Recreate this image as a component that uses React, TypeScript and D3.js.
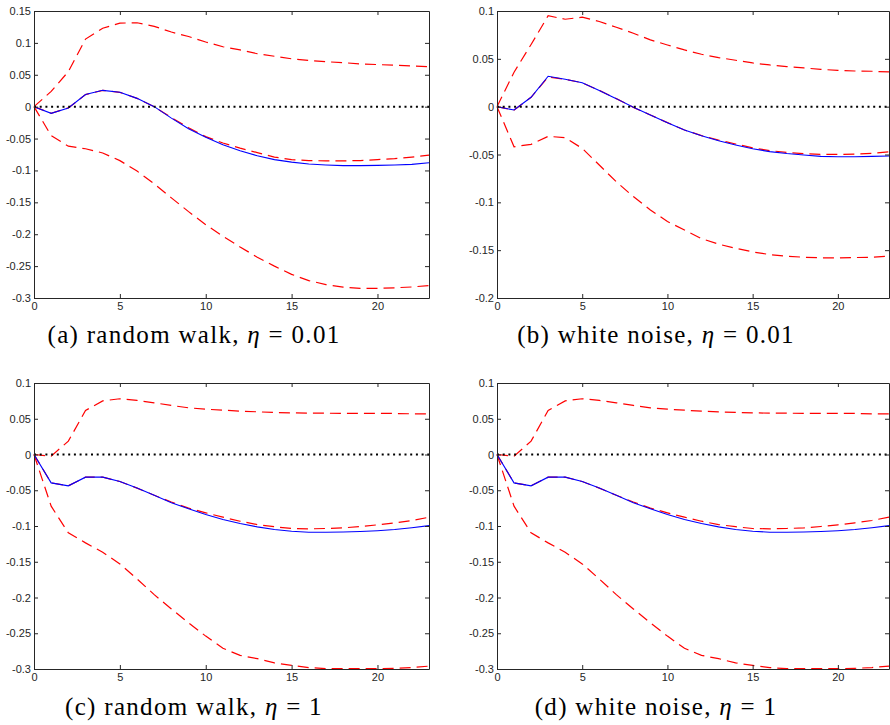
import React, { useEffect, useRef } from "react";
import * as d3 from "d3";

// horizons 0..23
const horizon = [0, 1, 2, 3, 4, 5, 6, 7, 8, 9, 10, 11, 12, 13, 14, 15, 16, 17, 18, 19, 20, 21, 22, 23];
const xTicks = [0, 5, 10, 15, 20];

// (a) random walk, eta = 0.01
const aBlue = [0, -0.0104, -0.002, 0.019, 0.0256, 0.0225, 0.013, 0.0, -0.018, -0.0345, -0.048, -0.0596, -0.069, -0.077, -0.083, -0.087, -0.09, -0.0915, -0.0925, -0.0925, -0.092, -0.0915, -0.0905, -0.088];
const aMid = [0, -0.0104, -0.002, 0.019, 0.0256, 0.0225, 0.013, 0.0, -0.017, -0.033, -0.047, -0.057, -0.065, -0.072, -0.079, -0.083, -0.0846, -0.085, -0.085, -0.0845, -0.083, -0.0815, -0.079, -0.076];
const aUp = [0, 0.024, 0.055, 0.106, 0.123, 0.131, 0.1316, 0.126, 0.117, 0.11, 0.1014, 0.094, 0.089, 0.083, 0.079, 0.075, 0.0726, 0.0705, 0.069, 0.067, 0.066, 0.065, 0.064, 0.0627];
const aLow = [0, -0.0455, -0.062, -0.066, -0.0726, -0.0846, -0.101, -0.121, -0.143, -0.1646, -0.185, -0.203, -0.22, -0.236, -0.25, -0.263, -0.2727, -0.279, -0.283, -0.2848, -0.2848, -0.284, -0.2827, -0.2806];
const aTicks = [-0.3, -0.25, -0.2, -0.15, -0.1, -0.05, 0, 0.05, 0.1, 0.15];

// (b) white noise, eta = 0.01
const bBlue = [0, -0.0035, 0.0098, 0.0318, 0.0286, 0.025, 0.017, 0.0084, -0.0007, -0.0087, -0.0167, -0.0244, -0.0304, -0.0356, -0.04, -0.044, -0.047, -0.049, -0.0506, -0.052, -0.0523, -0.0523, -0.052, -0.0516];
const bMid = [0, -0.0035, 0.0098, 0.031, 0.0286, 0.025, 0.017, 0.0084, -0.0007, -0.0087, -0.0167, -0.0244, -0.0302, -0.0349, -0.039, -0.043, -0.046, -0.0478, -0.0492, -0.0499, -0.0499, -0.0495, -0.0488, -0.0471];
const bUp = [0, 0.036, 0.065, 0.095, 0.0914, 0.0935, 0.089, 0.083, 0.0768, 0.0698, 0.0645, 0.0593, 0.0548, 0.0513, 0.0485, 0.0457, 0.0436, 0.0419, 0.0405, 0.039, 0.038, 0.0373, 0.037, 0.0363];
const bLow = [0, -0.0419, -0.0394, -0.031, -0.0325, -0.0436, -0.061, -0.0785, -0.094, -0.108, -0.12, -0.129, -0.138, -0.1437, -0.148, -0.1518, -0.1546, -0.1563, -0.1574, -0.158, -0.158, -0.1577, -0.1574, -0.1563];
const bTicks = [-0.2, -0.15, -0.1, -0.05, 0, 0.05, 0.1];

// (c) random walk, eta = 1
const cBlue = [0, -0.0397, -0.0438, -0.0317, -0.0317, -0.0378, -0.047, -0.057, -0.0676, -0.076, -0.084, -0.091, -0.0966, -0.1012, -0.105, -0.1073, -0.1087, -0.1088, -0.1084, -0.1077, -0.1066, -0.105, -0.1025, -0.0995];
const cMid = [0, -0.0397, -0.0438, -0.0317, -0.0317, -0.0378, -0.047, -0.057, -0.0665, -0.075, -0.0816, -0.0877, -0.0933, -0.098, -0.101, -0.1035, -0.104, -0.1035, -0.1026, -0.1007, -0.0984, -0.0956, -0.0923, -0.0877];
const cUp = [0, -0.0023, 0.0187, 0.0616, 0.075, 0.078, 0.0756, 0.0723, 0.0686, 0.0653, 0.0634, 0.062, 0.0606, 0.0597, 0.0588, 0.0583, 0.0578, 0.0578, 0.0574, 0.0574, 0.0574, 0.0574, 0.0569, 0.0569];
const cLow = [0, -0.0723, -0.1096, -0.1236, -0.1367, -0.153, -0.174, -0.196, -0.216, -0.2355, -0.254, -0.271, -0.281, -0.2855, -0.2915, -0.295, -0.298, -0.2995, -0.2995, -0.2995, -0.2995, -0.299, -0.298, -0.296];
const cTicks = [-0.3, -0.25, -0.2, -0.15, -0.1, -0.05, 0, 0.05, 0.1];

// (d) white noise, eta = 1 (reads the same as (c))
const dBlue = cBlue;
const dMid = cMid;
const dUp = cUp;
const dLow = cLow;
const dTicks = cTicks;

const captions = [
  ["(a) random walk, ", "η", " = 0.01"],
  ["(b) white noise, ", "η", " = 0.01"],
  ["(c) random walk, ", "η", " = 1"],
  ["(d) white noise, ", "η", " = 1"],
];

const fmt = (v: number) => String(Number(v.toFixed(2)));

const App = () => {
  const svgRef = useRef<SVGSVGElement>(null);

  useEffect(() => {
    const svg = d3.select(svgRef.current);
    svg.selectAll("*").remove();

    const panels = [
      { blue: aBlue, mid: aMid, up: aUp, low: aLow, ticks: aTicks, x0: 34, y0: 11, w: 395, h: 287, cx: 194, cy: 343 },
      { blue: bBlue, mid: bMid, up: bUp, low: bLow, ticks: bTicks, x0: 497, y0: 11, w: 392, h: 287, cx: 656, cy: 343 },
      { blue: cBlue, mid: cMid, up: cUp, low: cLow, ticks: cTicks, x0: 34, y0: 383, w: 395, h: 286, cx: 194, cy: 715 },
      { blue: dBlue, mid: dMid, up: dUp, low: dLow, ticks: dTicks, x0: 497, y0: 383, w: 392, h: 286, cx: 656, cy: 715 },
    ];

    const axisColor = "#262626";

    panels.forEach((p, i) => {
      const g = svg.append("g").attr("transform", `translate(${p.x0},${p.y0})`);
      const x = d3.scaleLinear().domain([0, 23]).range([0, p.w]);
      const y = d3
        .scaleLinear()
        .domain([p.ticks[0], p.ticks[p.ticks.length - 1]])
        .range([p.h, 0]);

      const line = d3
        .line<number>()
        .x((_, j) => x(horizon[j]))
        .y((d) => y(d));

      [p.up, p.low, p.mid].forEach((s) => {
        g.append("path")
          .attr("d", line(s))
          .attr("fill", "none")
          .attr("stroke", "#ff0000")
          .attr("stroke-width", 1.2)
          .attr("stroke-dasharray", "11,6");
      });

      g.append("path")
        .attr("d", line(p.blue))
        .attr("fill", "none")
        .attr("stroke", "#0000ff")
        .attr("stroke-width", 1.1);

      // zero line
      g.append("line")
        .attr("x1", x(0))
        .attr("x2", x(23))
        .attr("y1", y(0))
        .attr("y2", y(0))
        .attr("stroke", "#000")
        .attr("stroke-width", 2)
        .attr("stroke-dasharray", "2,3.7");

      // axes, box with inward ticks
      const axes = [
        g.append("g").attr("transform", `translate(0,${p.h})`)
          .call(d3.axisBottom(x).tickValues(xTicks).tickSize(-4).tickSizeOuter(0).tickPadding(4)),
        g.append("g")
          .call(d3.axisTop(x).tickValues(xTicks).tickSize(-4).tickSizeOuter(0).tickFormat(() => "")),
        g.append("g")
          .call(d3.axisLeft(y).tickValues(p.ticks).tickSize(-4).tickSizeOuter(0).tickPadding(3).tickFormat((d) => fmt(+d))),
        g.append("g").attr("transform", `translate(${p.w},0)`)
          .call(d3.axisRight(y).tickValues(p.ticks).tickSize(-4).tickSizeOuter(0).tickFormat(() => "")),
      ];
      axes.forEach((a) => {
        a.selectAll("path, line").attr("stroke", axisColor).attr("stroke-width", 1);
        a.selectAll("text")
          .attr("fill", axisColor)
          .style("font-family", "'Liberation Sans', Arial, sans-serif")
          .style("font-size", "11px");
      });

      // caption
      const t = svg
        .append("text")
        .attr("x", p.cx)
        .attr("y", p.cy)
        .attr("text-anchor", "middle")
        .style("font-family", "'Liberation Serif', 'Times New Roman', serif")
        .style("font-size", "25px")
        .style("letter-spacing", "1.3px")
        .attr("fill", "#000");
      t.append("tspan").text(captions[i][0]);
      t.append("tspan").style("font-style", "italic").text(captions[i][1]);
      t.append("tspan").text(captions[i][2]);
    });
  }, []);

  return (
    <svg
      ref={svgRef}
      width={890}
      height={725}
      style={{ position: "absolute", left: 0, top: 0, background: "#fff" }}
    />
  );
};

export default App;
